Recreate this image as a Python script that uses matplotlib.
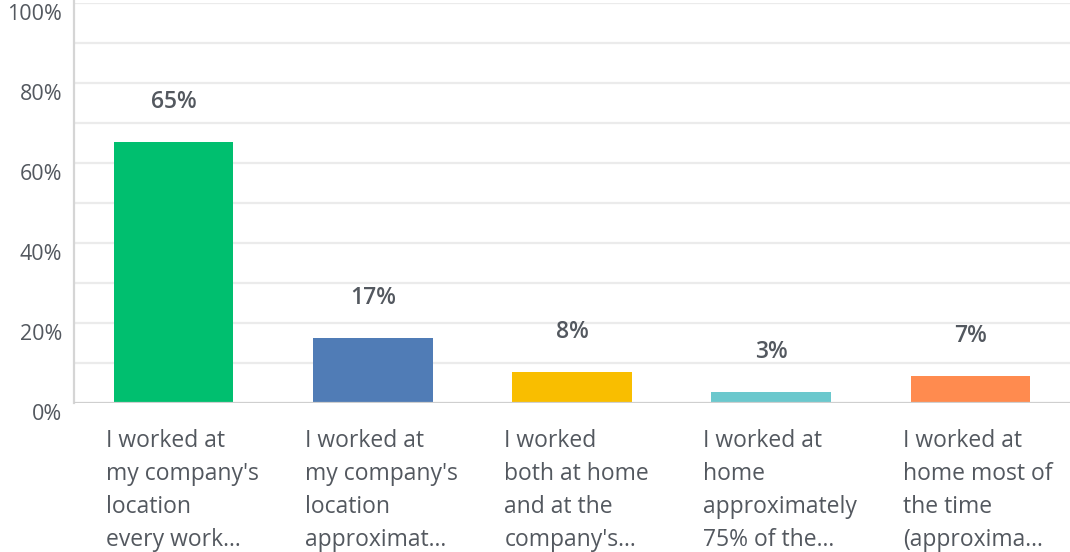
import matplotlib.pyplot as plt
import numpy as np

plt.rcParams['font.family'] = ['Open Sans', 'DejaVu Sans']

# data
labels = [
    "I worked at\nmy company's\nlocation\nevery work...",
    "I worked at\nmy company's\nlocation\napproximat...",
    "I worked\nboth at home\nand at the\ncompany's...",
    "I worked at\nhome\napproximately\n75% of the...",
    "I worked at\nhome most of\nthe time\n(approxima...",
]
values = [65.25, 16.25, 7.75, 2.75, 6.75]
value_text = ["65%", "17%", "8%", "3%", "7%"]
colors = ["#00BF6F", "#507CB6", "#F9BE00", "#6BC8CD", "#FF8B4F"]
y_ticks = [0, 20, 40, 60, 80, 100]

fig = plt.figure(figsize=(10.7, 5.52), dpi=100)
ax = fig.add_axes([74 / 1070, 149 / 552, 996 / 1070, 400 / 552])

x = np.arange(len(values))

# gridlines every 10%
for g in range(10, 101, 10):
    ax.axhline(g, color="#ebebeb", lw=1.6, zorder=0)
ax.axhline(0, color="#cfcfcf", lw=1.6, zorder=3)

ax.bar(x, values, width=0.6, color=colors, zorder=2)

# value labels above bars
for xi, v, t in zip(x, values, value_text):
    ax.text(xi, v + 10, t, ha="center", va="center", fontsize=16.5,
            fontweight="semibold", color="#53585f")

# category labels, left aligned under bars
for xi, lab in zip(x, labels):
    ax.text(xi - 0.34, -6.6, lab, ha="left", va="top", fontsize=16.5,
            color="#53585f", linespacing=1.5, clip_on=False)

# y tick labels, sitting a bit below their gridline
for t in y_ticks:
    ax.text(-0.56, t - 3.0, f"{t}%", ha="right", va="center", fontsize=15.5,
            color="#53585f", clip_on=False)

ax.set_xlim(-0.5, 4.5)
ax.set_ylim(0, 100)
ax.set_xticks([])
ax.set_yticks([])
for s in ["top", "right", "bottom"]:
    ax.spines[s].set_visible(False)
ax.spines["left"].set_color("#d5d5d5")
ax.spines["left"].set_linewidth(1.6)
ax.spines["left"].set_bounds(0, 101)

fig.savefig("out.png", dpi=100)
